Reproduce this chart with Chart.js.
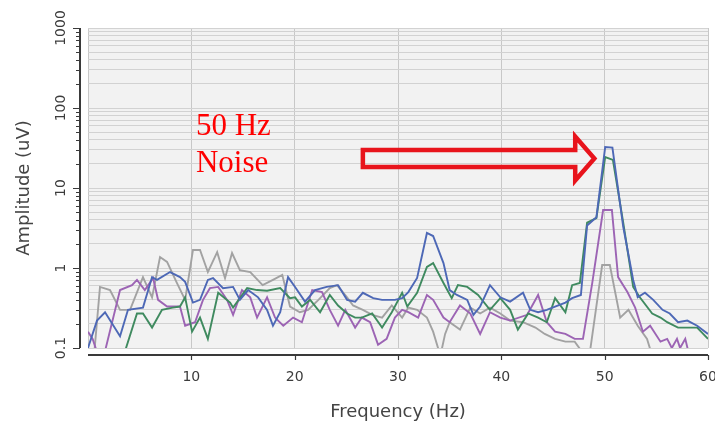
<!DOCTYPE html>
<html>
<head>
<meta charset="utf-8">
<script src="https://cdn.jsdelivr.net/npm/chart.js@4.4.0/dist/chart.umd.min.js"></script>
<style>
  html, body { margin: 0; padding: 0; background: #fff; }
  canvas { display: block; }
</style>
</head>
<body>
<canvas id="spectrum" width="715" height="427"></canvas>
<script>
// values (Hz, uV)
const blueHz = [0, 0.87, 1.65, 3.1, 3.87, 5.32, 6.2, 6.68, 7.94, 8.9, 9.4, 10.16, 10.84, 11.6, 12.1, 13.07, 14.04, 14.7, 15.5, 16.46,
  17.33, 17.9, 18.6, 19.36, 20.04, 21.0, 21.97, 23.1, 24.2, 25.07, 25.85, 26.6, 27.6, 28.46, 29.7, 30.4, 31.0, 31.85, 32.8, 33.4,
  34.4, 35.0, 35.7, 36.7, 37.3, 37.95, 38.9, 39.9, 40.85, 42.1, 42.8, 43.56, 44.4, 45.2, 46.2, 46.85, 47.7, 48.3, 49.2, 50.05,
  50.75, 51.8, 52.76, 53.2, 53.9, 54.7, 55.6, 56.3, 57.1, 58.0, 58.95, 60];
const blueUv = [0.10, 0.22, 0.28, 0.14, 0.30, 0.32, 0.77, 0.71, 0.89, 0.77, 0.67, 0.37, 0.40, 0.71, 0.75, 0.56, 0.58, 0.40, 0.53, 0.43,
  0.30, 0.19, 0.28, 0.77, 0.58, 0.38, 0.53, 0.58, 0.61, 0.40, 0.38, 0.49, 0.42, 0.40, 0.40, 0.42, 0.50, 0.75, 2.74, 2.51,
  1.15, 0.53, 0.46, 0.40, 0.26, 0.33, 0.61, 0.43, 0.38, 0.49, 0.30, 0.28, 0.30, 0.33, 0.37, 0.42, 0.46, 3.4, 4.3, 32.5,
  32, 3.25, 0.71, 0.43, 0.49, 0.40, 0.30, 0.27, 0.21, 0.22, 0.19, 0.15];

const greenHz = [3.3, 4.74, 5.32, 6.2, 7.16, 8.2, 8.9, 9.4, 10.07, 10.84, 11.6, 12.6, 13.75, 14.04, 15.4, 16.36, 17.33, 18.6, 19.55, 20.04,
  20.7, 21.5, 22.46, 23.4, 24.2, 25.07, 25.85, 26.5, 27.5, 28.46, 29.4, 30.4, 30.9, 31.85, 32.8, 33.4, 34.4, 35.2, 35.8, 36.7,
  37.75, 38.9, 39.9, 40.85, 41.6, 42.6, 43.56, 44.4, 45.2, 46.2, 46.85, 47.6, 48.3, 49.2, 50.05, 50.8, 51.8, 52.76, 53.4, 54.6,
  55.4, 56.05, 57.1, 58.1, 58.95, 60];
const greenUv = [0.07, 0.27, 0.27, 0.18, 0.30, 0.32, 0.33, 0.43, 0.16, 0.24, 0.13, 0.49, 0.37, 0.32, 0.56, 0.53, 0.52, 0.56, 0.42, 0.43,
  0.33, 0.40, 0.28, 0.46, 0.34, 0.27, 0.24, 0.24, 0.27, 0.18, 0.28, 0.49, 0.33, 0.49, 1.03, 1.15, 0.65, 0.42, 0.61, 0.58,
  0.46, 0.30, 0.42, 0.30, 0.17, 0.27, 0.24, 0.21, 0.42, 0.28, 0.61, 0.65, 3.7, 4.2, 24.4, 22.4, 3.66, 0.58, 0.43, 0.27,
  0.24, 0.21, 0.18, 0.18, 0.18, 0.13];

const purpleHz = [0, 0.45, 1.3, 3.1, 4.26, 4.74, 5.5, 6.3, 6.78, 7.65, 8.9, 9.4, 10.36, 11.13, 11.8, 12.6, 13.46, 14.04, 14.9, 15.7,
  16.36, 17.33, 18.1, 18.9, 19.85, 20.7, 21.7, 22.65, 23.4, 24.2, 24.9, 25.85, 26.5, 27.3, 28.07, 28.9, 29.7, 30.4, 31.0, 31.95,
  32.8, 33.4, 34.4, 35.0, 36.0, 37.0, 37.95, 38.9, 39.9, 40.85, 42.5, 43.56, 44.4, 45.2, 46.2, 47.1, 47.9, 48.8, 49.85, 50.7,
  51.3, 52.2, 52.95, 53.7, 54.4, 55.4, 56.05, 56.5, 57.0, 57.3, 57.8, 58.1];
const purpleUv = [0.16, 0.13, 0.06, 0.53, 0.61, 0.71, 0.53, 0.75, 0.40, 0.33, 0.33, 0.19, 0.21, 0.40, 0.56, 0.58, 0.40, 0.26, 0.53, 0.43,
  0.24, 0.43, 0.24, 0.19, 0.24, 0.21, 0.53, 0.50, 0.30, 0.19, 0.30, 0.18, 0.24, 0.21, 0.11, 0.13, 0.24, 0.30, 0.28, 0.24,
  0.46, 0.40, 0.24, 0.21, 0.34, 0.27, 0.15, 0.28, 0.24, 0.22, 0.26, 0.46, 0.21, 0.16, 0.15, 0.13, 0.13, 0.65, 5.3, 5.3,
  0.77, 0.50, 0.32, 0.16, 0.19, 0.12, 0.13, 0.10, 0.13, 0.10, 0.13, 0.09];

const grayHz = [0.5, 1.16, 2.13, 3.1, 4.07, 5.32, 6.2, 6.97, 7.65, 8.6, 9.4, 10.16, 10.84, 11.6, 12.5, 13.26, 13.94, 14.7, 15.7, 16.9,
  17.9, 18.8, 19.55, 20.5, 21.3, 22.3, 23.4, 24.1, 25.07, 25.65, 26.6, 27.5, 28.46, 29.4, 30.4, 31.0, 31.85, 32.8, 33.4, 34.1,
  34.56, 35.0, 36.0, 37.0, 37.95, 38.9, 39.9, 40.85, 42.1, 43.3, 44.2, 45.2, 46.2, 47.1, 47.8, 48.3, 49.76, 50.5, 51.5, 52.3,
  53.2, 54.1, 54.6];
const grayUv = [0.06, 0.58, 0.53, 0.30, 0.30, 0.77, 0.43, 1.37, 1.19, 0.65, 0.40, 1.68, 1.68, 0.89, 1.58, 0.75, 1.54, 0.94, 0.89, 0.61,
  0.71, 0.82, 0.33, 0.28, 0.30, 0.40, 0.56, 0.61, 0.43, 0.34, 0.30, 0.26, 0.24, 0.34, 0.24, 0.32, 0.30, 0.24, 0.16, 0.08,
  0.15, 0.21, 0.17, 0.32, 0.27, 0.32, 0.27, 0.22, 0.21, 0.18, 0.15, 0.13, 0.12, 0.12, 0.09, 0.05, 1.09, 1.09, 0.24, 0.30,
  0.19, 0.13, 0.08];

const xTicks = [0, 10, 20, 30, 40, 50, 60];
const xTickLabels = ['', '10', '20', '30', '40', '50', '60'];
const yDecades = [0.1, 1, 10, 100, 1000];
const yDecadeLabels = ['0.1', '1', '10', '100', '1000'];
const yMinorSteps = [2, 3, 4, 5, 6, 7, 8, 9];

// annotation anchor, in data units
const noteText = ['50 Hz', 'Noise'];
const noteHz = 10.45;
const noteUv = [46, 15.8];
const arrowHz = [26.6, 47.15, 49.0];   // tail, head base, tip
const arrowUv = 23.4;

var yGrid = [];
yDecades.forEach(function(d, i){
  yGrid.push(d);
  if (i < yDecades.length - 1) yMinorSteps.forEach(function(m){ yGrid.push(+(d * m).toPrecision(3)); });
});

function pts(hz, uv){
  return hz.map(function(f, i){ return {x: f, y: uv[i]}; });
}

function line(data, color){
  return { data: data, borderColor: color, borderWidth: 1.9, pointRadius: 0, tension: 0, fill: false };
}

var frame = {
  id: 'frame',
  beforeDraw: function(chart){
    var a = chart.chartArea, ctx = chart.ctx;
    ctx.save();
    ctx.fillStyle = '#f2f2f2';
    ctx.fillRect(a.left, a.top, a.right - a.left, a.bottom - a.top);
    ctx.restore();
  },
  afterDraw: function(chart){
    var a = chart.chartArea, ctx = chart.ctx;
    var xs = chart.scales.x, ys = chart.scales.y;
    var ax = a.left - 8, ay = a.bottom + 7;
    ctx.save();
    ctx.strokeStyle = '#3a3a3a';
    ctx.lineWidth = 2;
    ctx.beginPath();
    ctx.moveTo(ax, a.top); ctx.lineTo(ax, a.bottom);
    ctx.moveTo(a.left, ay); ctx.lineTo(a.right, ay);
    ctx.stroke();
    ctx.lineWidth = 1.2;
    ctx.beginPath();
    yGrid.forEach(function(v){
      var py = Math.round(ys.getPixelForValue(v)) + 0.5;
      var len = yDecades.indexOf(v) >= 0 ? 7 : 4;
      ctx.moveTo(ax, py); ctx.lineTo(ax - len, py);
    });
    xTicks.forEach(function(v, i){
      if (!xTickLabels[i]) return;
      var px = Math.round(xs.getPixelForValue(v)) + 0.5;
      ctx.moveTo(px, ay); ctx.lineTo(px, ay + 5);
    });
    ctx.stroke();
    ctx.restore();
  }
};

var note = {
  id: 'note',
  afterDatasetsDraw: function(chart){
    var ctx = chart.ctx, xs = chart.scales.x, ys = chart.scales.y;
    ctx.save();
    ctx.fillStyle = '#ff0000';
    ctx.font = '31px "Liberation Serif", "Times New Roman", serif';
    ctx.textBaseline = 'alphabetic';
    ctx.textAlign = 'left';
    noteText.forEach(function(t, i){
      ctx.fillText(t, xs.getPixelForValue(noteHz), ys.getPixelForValue(noteUv[i]));
    });

    var x0 = xs.getPixelForValue(arrowHz[0]);
    var xh = xs.getPixelForValue(arrowHz[1]);
    var xt = xs.getPixelForValue(arrowHz[2]);
    var yc = ys.getPixelForValue(arrowUv);
    ctx.strokeStyle = '#e8141c';
    ctx.lineWidth = 4.5;
    ctx.lineJoin = 'miter';
    ctx.beginPath();
    ctx.moveTo(x0, yc - 8.5);
    ctx.lineTo(xh, yc - 8.5);
    ctx.lineTo(xh, yc - 22);
    ctx.lineTo(xt, yc);
    ctx.lineTo(xh, yc + 22);
    ctx.lineTo(xh, yc + 8.5);
    ctx.lineTo(x0, yc + 8.5);
    ctx.closePath();
    ctx.stroke();
    ctx.restore();
  }
};

new Chart(document.getElementById('spectrum'), {
  type: 'line',
  data: {
    datasets: [
      line(pts(blueHz, blueUv), '#4d68b6'),
      line(pts(greenHz, greenUv), '#3f8a5f'),
      line(pts(purpleHz, purpleUv), '#9c64b4'),
      line(pts(grayHz, grayUv), '#a2a2a2')
    ]
  },
  options: {
    responsive: false,
    animation: false,
    devicePixelRatio: 1,
    layout: { padding: { top: 28, right: 7, bottom: 0, left: 0 } },
    plugins: { legend: { display: false }, tooltip: { enabled: false } },
    scales: {
      x: {
        type: 'linear', min: 0, max: 60,
        afterBuildTicks: function(s){ s.ticks = xTicks.map(function(v){ return {value: v}; }); },
        ticks: {
          autoSkip: false, maxRotation: 0, padding: 21, color: '#3c3c3c',
          font: { family: 'DejaVu Sans', size: 14 },
          callback: function(v, i){ return xTickLabels[i]; }
        },
        grid: { color: '#c8c8c8', lineWidth: 1, drawTicks: false },
        border: { display: false },
        title: { display: true, text: 'Frequency (Hz)', color: '#444', font: { family: 'DejaVu Sans', size: 18 }, padding: { top: 0, bottom: 4 } },
        afterFit: function(s){ s.height = 79; s.paddingLeft = 0; s.paddingRight = 0; }
      },
      y: {
        type: 'logarithmic', min: 0.1, max: 1000,
        afterBuildTicks: function(s){ s.ticks = yGrid.map(function(v){ return {value: v}; }); },
        ticks: {
          autoSkip: false, minRotation: 90, maxRotation: 90, crossAlign: 'center', padding: 9, color: '#3c3c3c',
          font: { family: 'DejaVu Sans', size: 14 },
          callback: function(v){ var i = yDecades.indexOf(v); return i >= 0 ? yDecadeLabels[i] : ''; }
        },
        grid: { color: '#d2d2d2', lineWidth: 1, drawTicks: false },
        border: { display: false },
        title: { display: true, text: 'Amplitude (uV)', color: '#444', font: { family: 'DejaVu Sans', size: 18 }, padding: { top: 14, bottom: 0 } },
        afterFit: function(s){ s.width = 88; s.paddingTop = 0; s.paddingBottom = 0; }
      }
    }
  },
  plugins: [frame, note]
});
</script>
</body>
</html>
